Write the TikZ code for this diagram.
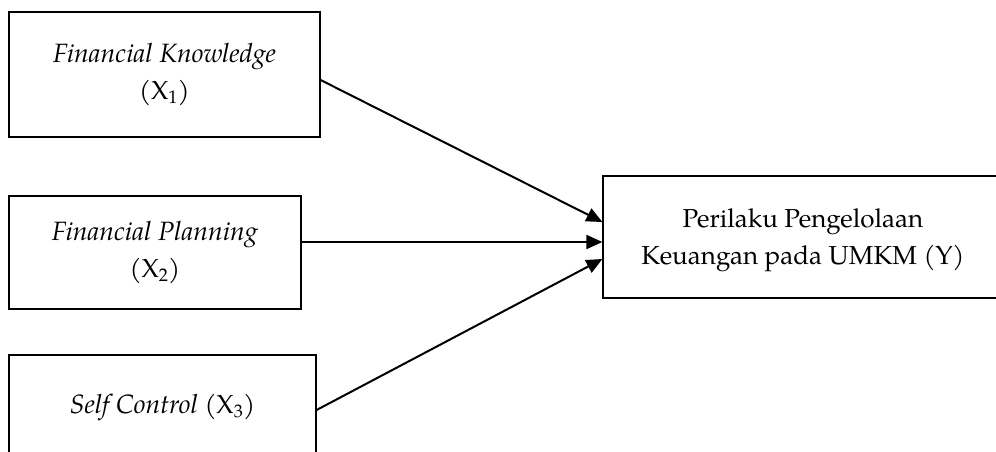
\documentclass[tikz,border=0pt]{standalone}
\usepackage{fontspec}
\setmainfont{TeX Gyre Pagella}
\usetikzlibrary{arrows.meta}
\newcommand{\itx}[1]{{\fontsize{26.5}{37}\selectfont\itshape #1}}
\begin{document}
\begin{tikzpicture}[x=1pt,y=-1pt,
  box/.style={draw=black, line width=1.2pt, rectangle, align=center, inner sep=0pt,
    font=\fontsize{26}{37}\selectfont},
  link/.style={line width=2pt, -{Triangle[length=16pt,width=14pt]}}]
\useasboundingbox (0,0) rectangle (996,452);
\clip (0,0) rectangle (996,452);
\node[box, minimum width=311pt, minimum height=125pt] (b1) at (164.5,74.5)
  {\itx{Financial Knowledge}\\(X\textsubscript{1})};
\node[box, minimum width=292pt, minimum height=113pt] (b2) at (155,252.5)
  {\itx{Financial Planning}\\(X\textsubscript{2})};
\node[box, minimum width=307pt, minimum height=104pt] (b3) at (162.5,407)
  {\itx{Self Control} (X\textsubscript{3})};
\node[box, minimum width=400pt, minimum height=122pt] (y) at (803,237)
  {\rule{0pt}{26pt}Perilaku Pengelolaan\\Keuangan pada UMKM (Y)};
\draw[link] ([yshift=-5.5pt]b1.east) -- ([yshift=15pt]y.west);
\draw[link] ([yshift=10.5pt]b2.east) -- ([yshift=-5pt]y.west);
\draw[link] ([yshift=-3pt]b3.east) -- ([yshift=-22pt]y.west);
\end{tikzpicture}
\end{document}
